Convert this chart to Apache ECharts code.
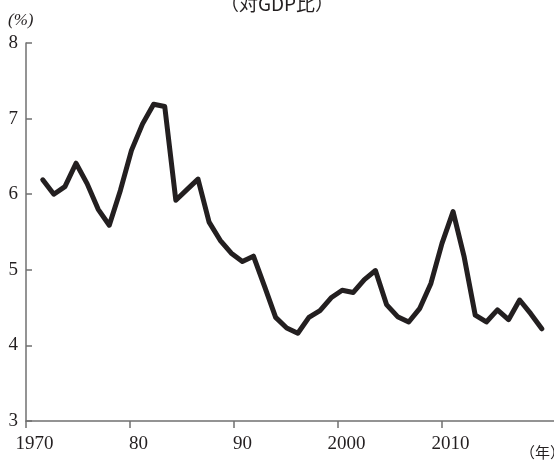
<!DOCTYPE html>
<html>
<head>
<meta charset="utf-8">
<script src="https://cdn.jsdelivr.net/npm/echarts@6/dist/echarts.min.js"></script>
<style>
html,body{margin:0;padding:0;background:#fff;}
#chart{width:554px;height:461px;}
</style>
</head>
<body>
<div id="chart"></div>
<script>
// 年次
var years = [1971,1972,1973,1974,1975,1976,1977,1978,1979,1980,
  1981,1982,1983,1984,1985,1986,1987,1988,1989,1990,
  1991,1992,1993,1994,1995,1996,1997,1998,1999,2000,
  2001,2002,2003,2004,2005,2006,2007,2008,2009,2010,
  2011,2012,2013,2014,2015,2016];
// 対GDP比 (%)
var ratio = [6.19,6.00,6.10,6.41,6.14,5.80,5.59,6.05,6.58,6.93,
  7.19,7.16,5.92,6.06,6.20,5.63,5.39,5.22,5.11,5.18,
  4.78,4.37,4.23,4.16,4.37,4.46,4.63,4.73,4.70,4.87,
  4.99,4.54,4.38,4.31,4.49,4.82,5.35,5.77,5.17,4.40,
  4.31,4.47,4.34,4.60,4.42,4.22];
var xTicks = [1970,1980,1990,2000,2010];
var xTickLabels = ['1970','80','90','2000','2010'];

var serif = 'Liberation Serif';
var axisColor = '#707070';

var points = [];
for (var i = 0; i < years.length; i++) {
  points.push([years[i], ratio[i]]);
}

var chart = echarts.init(document.getElementById('chart'));
var option = {
  animation: false,
  title: {
    text: '（対GDP比）',
    left: 'center',
    top: -11,
    textStyle: {fontFamily: 'Noto Sans CJK JP', fontSize: 19, fontWeight: 'normal', color: '#231f20'}
  },
  graphic: [
    {type: 'text', left: 8, top: 12, style: {text: '(%)', font: 'italic 17px Liberation Serif', fill: '#231f20'}},
    {type: 'text', left: 520, top: 445, style: {text: '（年）', font: '15px Noto Sans CJK JP', fill: '#231f20'}}
  ],
  grid: {left: 26, right: 0, top: 43, bottom: 40, containLabel: false},
  xAxis: [{
    type: 'value',
    min: 1970,
    max: 2020.77,
    splitLine: {show: false},
    axisLine: {show: true, lineStyle: {color: axisColor, width: 1.5}},
    axisTick: {show: true, inside: false, length: 7, customValues: xTicks, lineStyle: {color: axisColor, width: 1.5}},
    axisLabel: {
      customValues: xTicks,
      margin: 14,
      padding: [0, 0, 0, 17],
      fontFamily: serif, fontSize: 19, color: '#231f20',
      formatter: function (v) {
        var k = xTicks.indexOf(v);
        return k >= 0 ? xTickLabels[k] : '';
      }
    }
  }, {
    type: 'value',
    min: 1969.49,
    max: 2017.1,
    show: false
  }],
  yAxis: {
    type: 'value',
    min: 3,
    max: 8,
    interval: 1,
    splitLine: {show: false},
    axisLine: {show: true, lineStyle: {color: axisColor, width: 1.5}},
    axisTick: {show: true, inside: true, length: 6, lineStyle: {color: axisColor, width: 1.5}},
    axisLabel: {margin: 8, fontFamily: serif, fontSize: 19, color: '#231f20'}
  },
  series: [{
    type: 'line',
    xAxisIndex: 1,
    data: points,
    symbol: 'none',
    lineStyle: {color: '#231f20', width: 5, join: 'round', cap: 'round'}
  }]
};
chart.setOption(option);
</script>
</body>
</html>
